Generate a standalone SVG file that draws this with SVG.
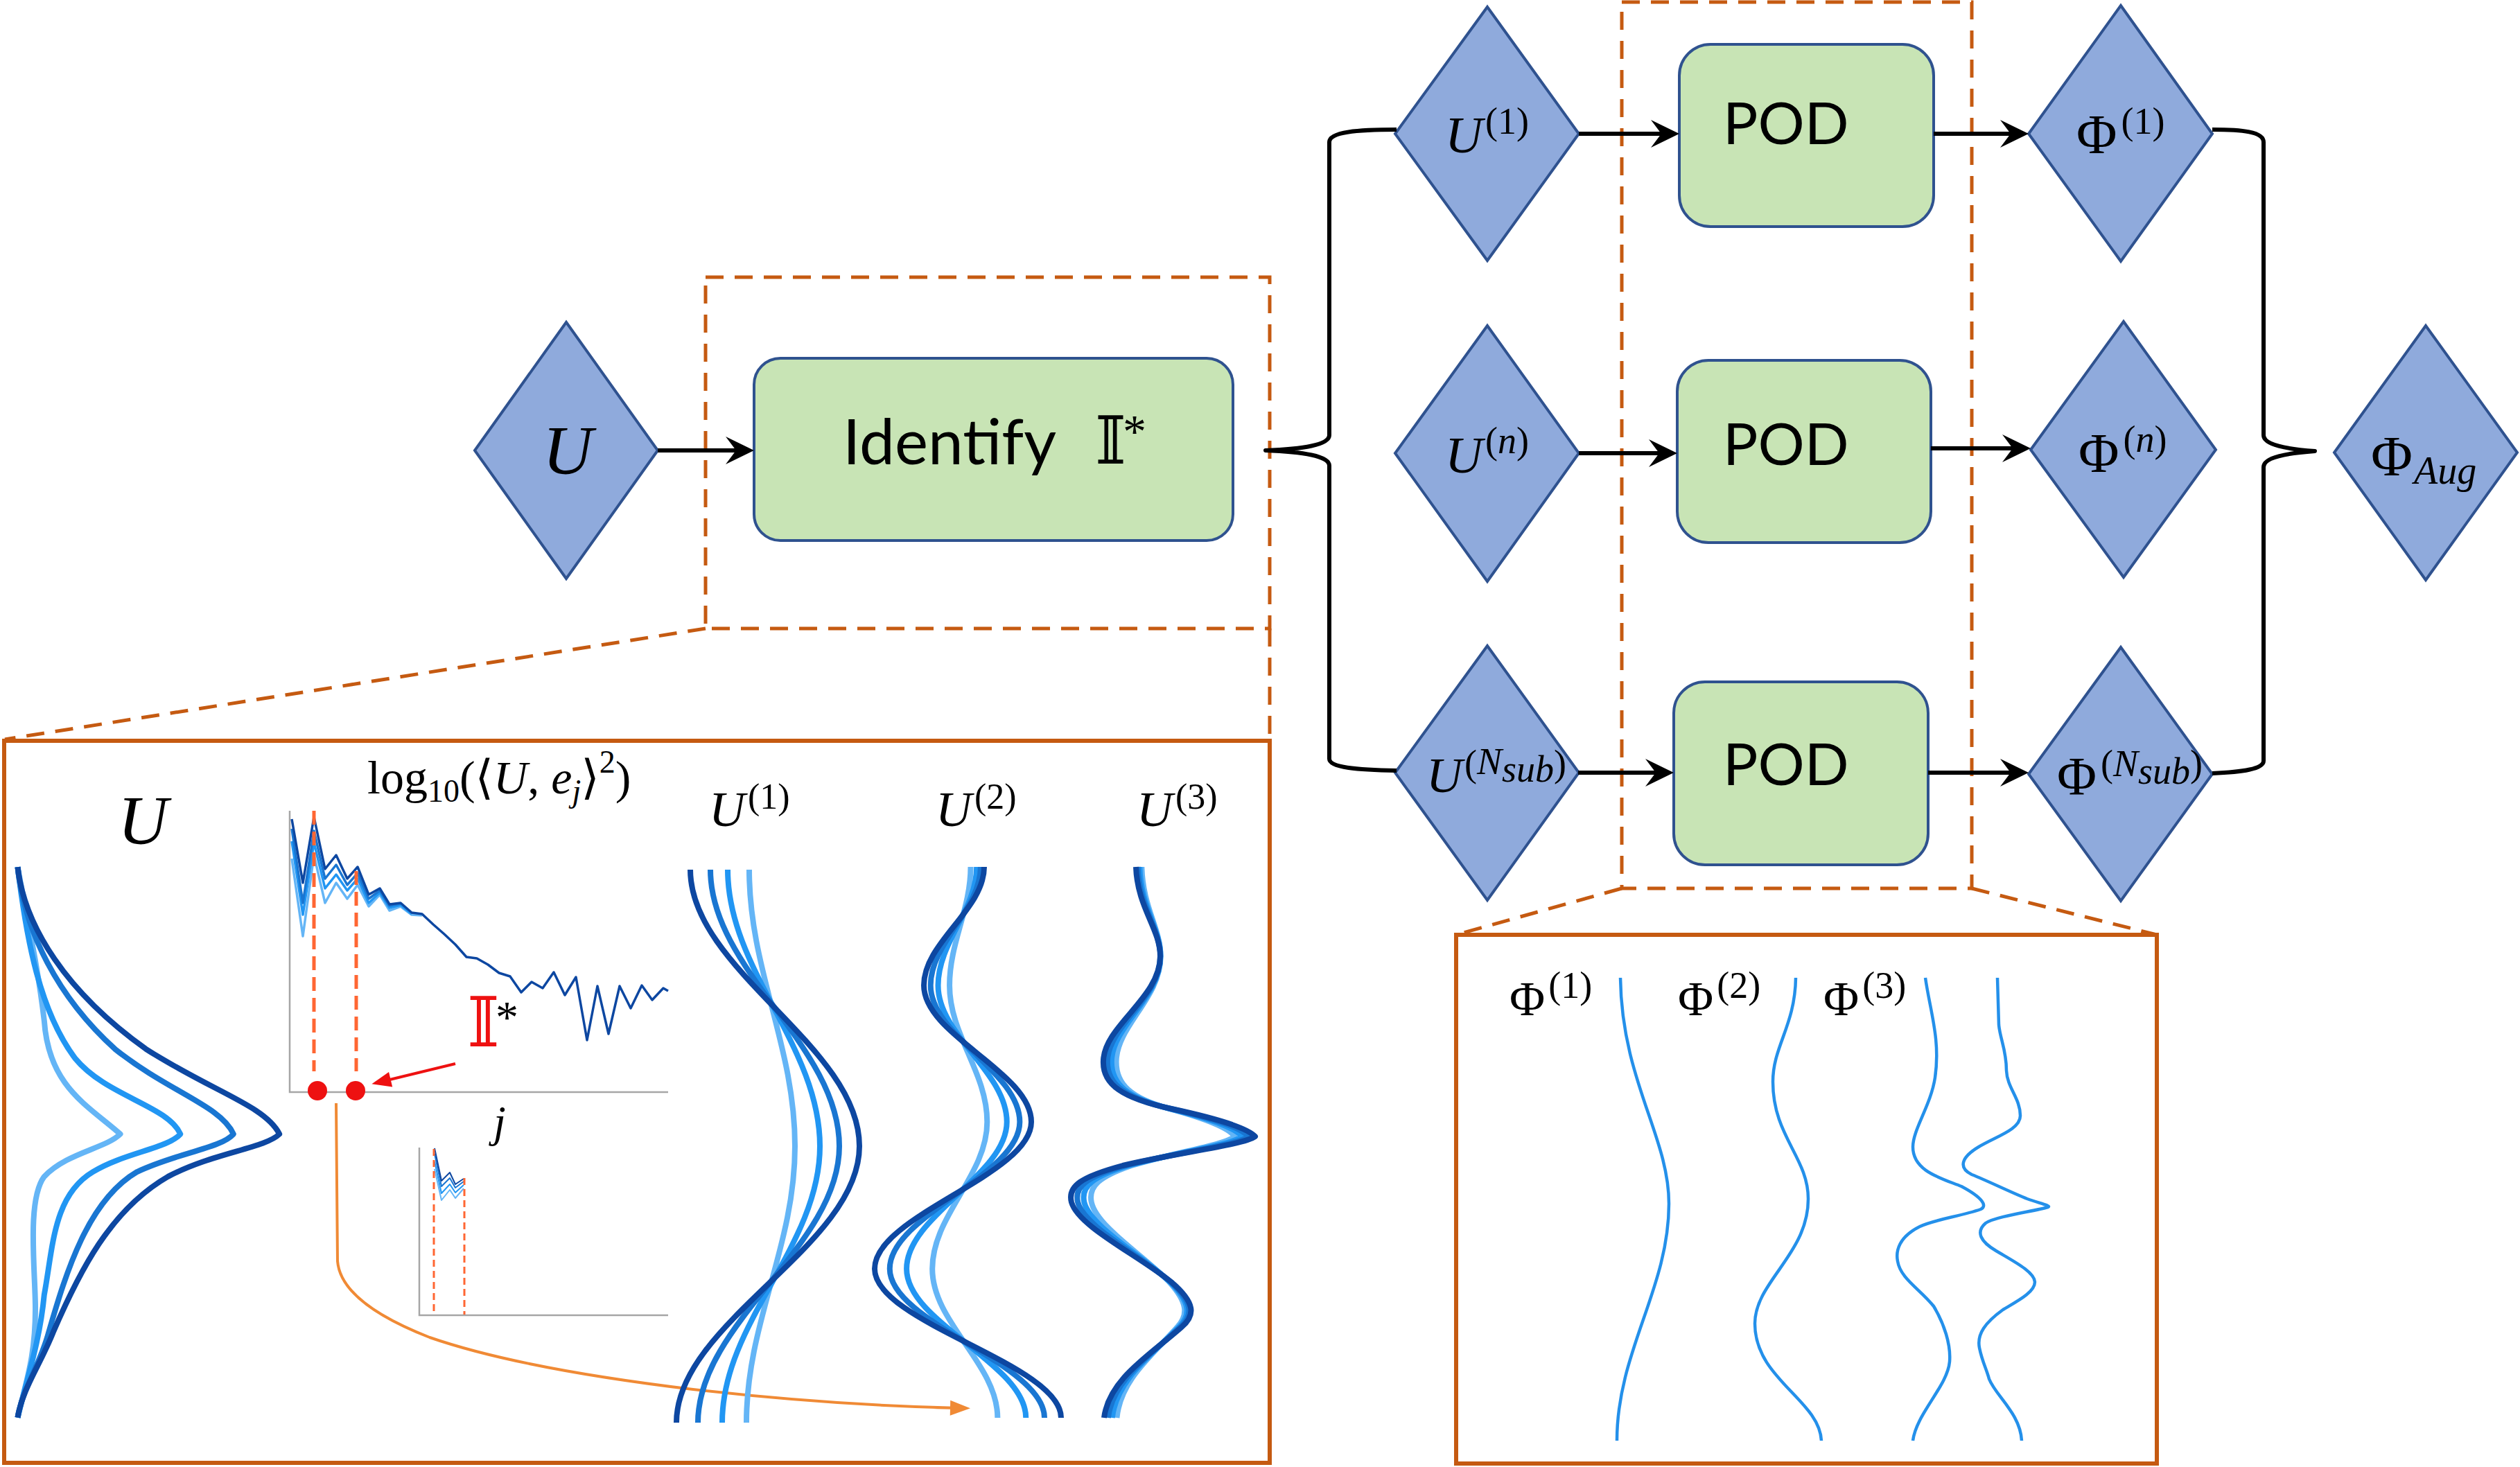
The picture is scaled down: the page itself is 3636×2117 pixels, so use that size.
<svg xmlns="http://www.w3.org/2000/svg" xmlns:xlink="http://www.w3.org/1999/xlink" width="3636" height="2117" viewBox="0 0 3636 2117">
  <style>
    .dia { fill:#8FAADC; stroke:#2F528F; stroke-width:4; stroke-linejoin:miter }
    .box { fill:#C8E4B5; stroke:#2F528F; stroke-width:4 }
    .dash { fill:none; stroke:#C55A11; stroke-width:5; stroke-dasharray:26 16 }
    .panel { fill:none; stroke:#C55A11; stroke-width:6 }
    .conn { fill:none; stroke:#000; stroke-width:6 }
    .brace { fill:none; stroke:#000; stroke-width:6; stroke-linejoin:round }
    .m { font-family:"Liberation Serif","DejaVu Serif",serif; fill:#000 }
    .i { font-style:italic }
    .s { font-family:Lato,"Liberation Sans",sans-serif; fill:#000 }
    .ds { font-family:"DejaVu Serif","DejaVu Sans",serif }
    .wave { fill:none; stroke-width:8; vector-effect:non-scaling-stroke; stroke-linejoin:round }
    .spec { fill:none; stroke-width:3.5; stroke-linejoin:round }
    .mini { fill:none; stroke-width:2; stroke-linejoin:round }
    .c1 { stroke:#64B5F6 } .c2 { stroke:#2196F3 } .c3 { stroke:#1976D2 } .c4 { stroke:#0D47A1 }
    .axis { stroke:#A6A6A6; stroke-width:2.5; fill:none }
    .guide { stroke:#FF6633; stroke-width:5; stroke-dasharray:20 10; fill:none }
    .guide2 { stroke:#FF6633; stroke-width:3; stroke-dasharray:10 6; fill:none }
    .phi { fill:none; stroke:#2490EA; stroke-width:4.5 }
  </style>
  <defs>
    <marker id="stealth" markerUnits="userSpaceOnUse" markerWidth="60" markerHeight="50" viewBox="-25 -25 50 50" refX="0" refY="0" orient="auto">
      <path d="M20,0 L-21,-20 L-6,0 L-21,20 Z" fill="#000"/>
    </marker>
    <marker id="redhead" markerUnits="userSpaceOnUse" markerWidth="40" markerHeight="40" viewBox="-20 -20 40 40" refX="0" refY="0" orient="auto">
      <path d="M14,0 L-14,-11 L-14,11 Z" fill="#EE1111"/>
    </marker>
    <marker id="orangehead" markerUnits="userSpaceOnUse" markerWidth="40" markerHeight="40" viewBox="-20 -20 40 40" refX="0" refY="0" orient="auto">
      <path d="M15,0 L-14,-11 L-14,11 Z" fill="#F08A35"/>
    </marker>
    <!-- second-mode family: one shape, scaled about its centre line -->
    <path id="u2" class="wave" d="M1420,1251 C1420,1313 1333,1360 1333,1422 C1333,1494 1488,1547 1488,1619 C1488,1696 1262,1754 1262,1831 C1262,1909 1531,1968 1531,2046"/>
    <!-- third-mode family -->
    <path id="u3" class="wave" d="M1639,1251 C1641,1310 1674,1340 1674,1380 C1674,1440 1594,1480 1592,1530 C1590,1565 1620,1585 1690,1600 C1760,1615 1800,1628 1811,1640 C1795,1652 1700,1663 1620,1682 C1560,1698 1540,1712 1546,1735 C1556,1770 1640,1810 1690,1850 C1725,1880 1725,1898 1705,1915 C1660,1955 1600,1990 1593,2046"/>
  </defs>

  <rect width="3636" height="2117" fill="#fff"/>

  <!-- zoom frames and their projection lines -->
  <g id="frames">
    <rect class="dash" x="1018" y="400" width="814" height="507"/>
    <path class="dash" d="M1018,907 L7,1067"/>
    <path class="dash" d="M1832,907 L1832,1067"/>
    <rect class="dash" x="2340" y="3" width="505" height="1279"/>
    <path class="dash" d="M2340,1282 L2101,1349"/>
    <path class="dash" d="M2845,1282 L3112,1349"/>
  </g>

  <!-- nodes -->
  <g id="node-U">
    <polygon class="dia" points="817,465 949,650 817,835 685,650"/>
    <text class="m i" x="819" y="683" font-size="100" text-anchor="middle">U</text>
  </g>
  <g id="node-identify">
    <rect class="box" x="1088" y="517" width="691" height="263" rx="38"/>
    <text class="s" x="1216" y="670" font-size="91">Identify</text>
    <text class="ds" x="1580" y="669" font-size="96">𝕀</text>
    <text class="m" x="1620" y="645" font-size="68">*</text>
  </g>
  <g id="node-U1">
    <polygon class="dia" points="2146,10 2278,193 2146,376 2013,193"/>
    <text class="m" y="220"><tspan class="i" x="2085" font-size="75">U</tspan><tspan x="2143" y="193" font-size="54">(1)</tspan></text>
  </g>
  <g id="node-Un">
    <polygon class="dia" points="2146,470 2278,654 2146,839 2013,654"/>
    <text class="m" y="682"><tspan class="i" x="2085" font-size="75">U</tspan><tspan x="2143" y="654" font-size="54">(<tspan class="i">n</tspan>)</tspan></text>
  </g>
  <g id="node-UN">
    <polygon class="dia" points="2146,932 2278,1115 2146,1299 2013,1115"/>
    <text class="m" y="1143"><tspan class="i" x="2058" font-size="72">U</tspan><tspan x="2113" y="1120" font-size="54">(</tspan><tspan class="i" y="1117" font-size="54">N</tspan><tspan class="i" y="1128" font-size="54">sub</tspan><tspan y="1120" font-size="54">)</tspan></text>
  </g>
  <g id="node-pod1">
    <rect class="box" x="2423" y="64" width="367" height="263" rx="45"/>
    <text class="s" x="2486" y="208" font-size="84">POD</text>
  </g>
  <g id="node-pod2">
    <rect class="box" x="2420" y="520" width="366" height="263" rx="45"/>
    <text class="s" x="2486" y="671" font-size="84">POD</text>
  </g>
  <g id="node-pod3">
    <rect class="box" x="2415" y="984" width="367" height="264" rx="45"/>
    <text class="s" x="2486" y="1133" font-size="84">POD</text>
  </g>
  <g id="node-Phi1">
    <polygon class="dia" points="3060,8 3192,193 3060,377 2927,193"/>
    <text class="m" x="2996" y="221"><tspan font-size="80">Φ</tspan><tspan dx="6" y="193" font-size="54">(1)</tspan></text>
  </g>
  <g id="node-Phin">
    <polygon class="dia" points="3064,464 3197,649 3064,833 2930,649"/>
    <text class="m" x="2999" y="681"><tspan font-size="80">Φ</tspan><tspan dx="6" y="652" font-size="54">(<tspan class="i">n</tspan>)</tspan></text>
  </g>
  <g id="node-PhiN">
    <polygon class="dia" points="3060,934 3192,1117 3060,1300 2927,1117"/>
    <text class="m" x="2968" y="1146"><tspan font-size="78">Φ</tspan><tspan dx="6" y="1120" font-size="54">(</tspan><tspan class="i" y="1120" font-size="54">N</tspan><tspan class="i" y="1131" font-size="54">sub</tspan><tspan y="1120" font-size="54">)</tspan></text>
  </g>
  <g id="node-PhiAug">
    <polygon class="dia" points="3500,470 3632,653 3500,837 3368,653"/>
    <text class="m" x="3421" y="686"><tspan font-size="82">Φ</tspan><tspan class="i" dx="2" y="698" font-size="56">Aug</tspan></text>
  </g>

  <!-- connectors -->
  <g id="connectors">
    <path class="conn" d="M949,650 L1068,650" marker-end="url(#stealth)"/>
    <path class="conn" d="M2278,193 L2403,193" marker-end="url(#stealth)"/>
    <path class="conn" d="M2790,193 L2907,193" marker-end="url(#stealth)"/>
    <path class="conn" d="M2278,654 L2400,654" marker-end="url(#stealth)"/>
    <path class="conn" d="M2786,647 L2910,647" marker-end="url(#stealth)"/>
    <path class="conn" d="M2277,1115 L2395,1115" marker-end="url(#stealth)"/>
    <path class="conn" d="M2782,1115 L2907,1115" marker-end="url(#stealth)"/>
    <path class="brace" d="M2015,187 C1960,187 1918,190 1918,205 L1918,628 C1918,642 1880,648 1826,650 C1880,652 1918,658 1918,672 L1918,1095 C1918,1108 1960,1111 2015,1112"/>
    <path class="brace" d="M3192,187 C3235,187 3266,190 3266,205 L3266,628 C3266,642 3300,648 3340,651 C3300,654 3266,660 3266,674 L3266,1098 C3266,1110 3235,1114 3192,1116"/>
  </g>

  <!-- left detail panel -->
  <g id="panel-identify">
    <rect class="panel" x="6" y="1069" width="1826" height="1042"/>
    <text class="m i" x="170" y="1217" font-size="100">U</text>

    <!-- snapshots of U -->
    <g transform="translate(0,1050) scale(0.638,0.682)">
      <path class="wave c1" d="M40,295 C60,400 85,500 100,620 C110,760 200,800 272,860 C240,890 150,900 100,950 C60,1000 80,1150 80,1230 C80,1330 60,1380 40,1460"/>
      <path class="wave c2" d="M40,295 C60,450 90,600 170,700 C240,780 380,800 408,860 C380,890 280,900 210,940 C120,990 120,1100 100,1200 C90,1300 60,1380 40,1460"/>
      <path class="wave c3" d="M40,295 C55,430 130,570 260,680 C380,770 500,800 528,860 C500,890 400,900 310,940 C200,1000 150,1150 110,1280 C90,1350 50,1400 40,1460"/>
      <path class="wave c4" d="M40,295 C55,420 150,560 330,680 C480,770 600,800 632,860 C600,890 480,900 380,950 C250,1020 180,1150 120,1280 C90,1350 50,1400 40,1460"/>
    </g>

    <!-- coefficient spectrum -->
    <text class="m" x="530" y="1145" font-size="68">log<tspan font-size="46" dy="12">10</tspan><tspan dy="-12">(⟨</tspan><tspan class="i">U</tspan>, <tspan class="i">e</tspan><tspan class="i" font-size="46" dy="12">j</tspan><tspan dy="-12">⟩</tspan><tspan font-size="46" dy="-30">2</tspan><tspan dy="30">)</tspan></text>
    <path class="axis" d="M418,1170 L418,1576 L964,1576"/>
    <polyline class="spec c1" points="421,1239 437,1351 453,1234 469,1303 485,1274 501,1297 516,1277 532,1308 548,1291 562,1314 578,1308 594,1320 609,1321"/>
    <polyline class="spec c2" points="421,1214 437,1320 453,1216 469,1282 485,1262 501,1285 516,1268 532,1303 548,1288 562,1310 578,1306 594,1319"/>
    <polyline class="spec c3" points="421,1196 437,1303 453,1199 469,1268 485,1248 501,1277 516,1260 532,1297 548,1285 562,1307 578,1304"/>
    <polyline class="spec c4" points="421,1182 437,1274 453,1179 469,1254 485,1234 501,1268 516,1251 532,1291 548,1282 562,1305 578,1303 594,1317 609,1319 625,1334 641,1348 657,1363 673,1381 688,1383 704,1392 720,1404 736,1409 752,1432 767,1417 783,1426 799,1403 815,1436 831,1410 847,1501 862,1423 878,1492 894,1423 910,1455 926,1422 941,1443 957,1426 964,1430"/>
    <path class="guide" d="M453,1170 L453,1546"/>
    <path class="guide" d="M514,1257 L514,1546"/>
    <circle cx="458" cy="1574" r="14" fill="#EE1111"/>
    <circle cx="513" cy="1574" r="14" fill="#EE1111"/>
    <path d="M657,1535 L550,1561" stroke="#EE1111" stroke-width="4" fill="none" marker-end="url(#redhead)"/>
    <text x="674" y="1510" font-size="100" fill="#EE1111" class="ds">𝕀</text>
    <text x="715" y="1490" font-size="66" fill="#EE1111" class="m">*</text>
    <text class="m i" x="712" y="1640" font-size="64">j</text>

    <!-- truncated spectrum -->
    <path class="axis" d="M605,1656 L605,1898 L964,1898" stroke-width="2"/>
    <polyline class="mini c1" points="627,1687 637,1732 649,1717 657,1729 669,1715"/>
    <polyline class="mini c2" points="627,1676 637,1722 649,1709 657,1721 669,1710"/>
    <polyline class="mini c3" points="627,1665 637,1712 649,1700 657,1714 669,1705"/>
    <polyline class="mini c4" points="627,1657 637,1704 649,1692 657,1709 669,1701"/>
    <path class="guide2" d="M626,1658 L626,1897"/>
    <path class="guide2" d="M670,1700 L670,1897"/>

    <!-- splitting arrow -->
    <path d="M485,1592 L487,1820 Q492,1880 620,1930 Q750,1975 1000,2005 Q1200,2028 1385,2032" fill="none" stroke="#F08A35" stroke-width="4" marker-end="url(#orangehead)"/>

    <!-- sub-snapshots -->
    <text class="m" y="1192"><tspan class="i" x="1023" font-size="72">U</tspan><tspan x="1079" y="1167" font-size="52">(1)</tspan></text>
    <text class="m" y="1192"><tspan class="i" x="1350" font-size="72">U</tspan><tspan x="1406" y="1167" font-size="52">(2)</tspan></text>
    <text class="m" y="1192"><tspan class="i" x="1640" font-size="72">U</tspan><tspan x="1696" y="1167" font-size="52">(3)</tspan></text>

    <path class="wave c1" d="M1081,1255 C1081,1400 1147,1509 1147,1654 C1147,1799 1077,1908 1077,2053"/>
    <path class="wave c2" d="M1050,1255 C1050,1400 1183,1509 1183,1654 C1183,1799 1042,1908 1042,2053"/>
    <path class="wave c3" d="M1025,1255 C1025,1400 1211,1509 1211,1654 C1211,1799 1007,1908 1007,2053"/>
    <path class="wave c4" d="M996,1255 C996,1400 1240,1509 1240,1654 C1240,1799 976,1908 976,2053"/>

    <use xlink:href="#u2" href="#u2" class="c1" transform="matrix(0.35,0,0,1,903.5,0)"/>
    <use xlink:href="#u2" href="#u2" class="c2" transform="matrix(0.64,0,0,1,500.4,0)"/>
    <use xlink:href="#u2" href="#u2" class="c3" transform="matrix(0.83,0,0,1,236.3,0)"/>
    <use xlink:href="#u2" href="#u2" class="c4"/>

    <use xlink:href="#u3" href="#u3" class="c1" transform="matrix(0.78,0,0,1,368.9,0)"/>
    <use xlink:href="#u3" href="#u3" class="c2" transform="matrix(0.86,0,0,1,234.8,0)"/>
    <use xlink:href="#u3" href="#u3" class="c3" transform="matrix(0.93,0,0,1,117.4,0)"/>
    <use xlink:href="#u3" href="#u3" class="c4"/>
  </g>

  <!-- right detail panel: local modes -->
  <g id="panel-pod">
    <rect class="panel" x="2101" y="1349" width="1011" height="763"/>
    <text class="m" x="2178" y="1465"><tspan font-size="70">Φ</tspan><tspan dx="5" y="1440" font-size="54">(1)</tspan></text>
    <text class="m" x="2421" y="1465"><tspan font-size="70">Φ</tspan><tspan dx="5" y="1440" font-size="54">(2)</tspan></text>
    <text class="m" x="2631" y="1465"><tspan font-size="70">Φ</tspan><tspan dx="5" y="1440" font-size="54">(3)</tspan></text>
    <path class="phi" d="M2338,1411 C2340,1560 2408,1640 2408,1737 C2408,1860 2333,1950 2333,2079"/>
    <path class="phi" d="M2591,1411 C2590,1480 2558,1510 2558,1561 C2558,1640 2609,1670 2609,1730 C2609,1810 2532,1850 2532,1910 C2532,1990 2625,2020 2628,2079"/>
    <path class="phi" d="M2778,1411 C2785,1460 2800,1500 2792,1555 C2786,1595 2760,1630 2760,1655 C2760,1690 2800,1700 2830,1712 C2860,1728 2868,1740 2858,1745 C2830,1755 2790,1760 2770,1770 C2740,1785 2735,1805 2738,1820 C2742,1845 2770,1860 2790,1885 C2805,1910 2815,1940 2813,1965 C2810,2000 2765,2040 2760,2079"/>
    <path class="phi" d="M2882,1411 L2884,1479 C2886,1500 2895,1515 2895,1545 C2896,1570 2915,1585 2915,1610 C2915,1630 2880,1640 2855,1655 C2830,1670 2825,1685 2845,1695 C2870,1705 2900,1720 2925,1730 C2945,1737 2960,1740 2955,1742 C2935,1748 2880,1755 2865,1765 C2850,1778 2858,1792 2880,1805 C2905,1820 2935,1835 2936,1850 C2936,1865 2910,1878 2890,1890 C2865,1908 2852,1925 2856,1945 C2860,1965 2866,1975 2870,1990 C2880,2015 2915,2040 2917,2079"/>
  </g>
</svg>
